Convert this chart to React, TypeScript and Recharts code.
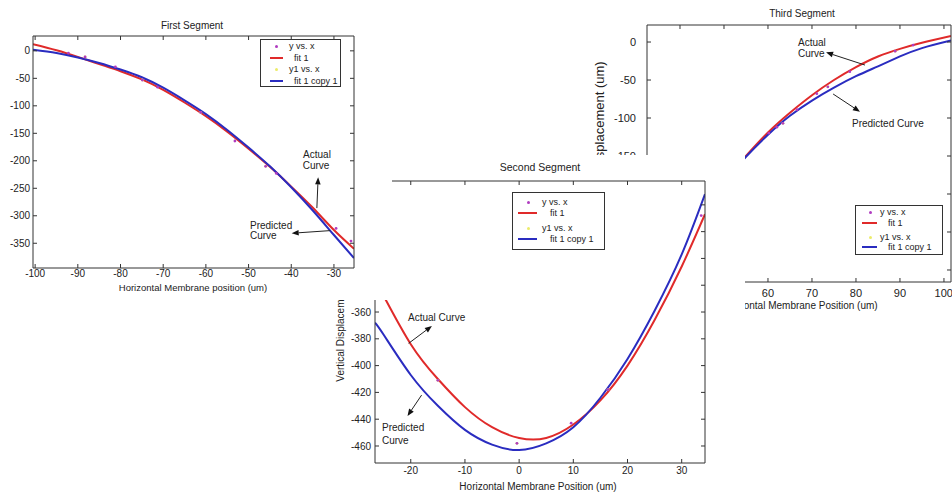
import React from 'react';
import { ComposedChart, Line, Scatter, XAxis, YAxis, ReferenceLine } from 'recharts';

const FONT = '"Liberation Sans", Arial, Helvetica, sans-serif';
const RED = '#e02a2a';
const BLUE = '#2a2cc0';
const MAGENTA = '#b03cc0';
const YELLOW = '#ecec6a';
const AXIS = '#333333';
const TXT = '#222222';

const legendNames = ['y vs. x', 'fit 1', 'y1 vs. x', 'fit 1 copy 1'];

// ---------- First Segment ----------
const s1FitX = [-100.5, -95, -90, -85, -80, -75, -70, -65, -60, -55, -50, -45, -40, -35, -30, -25.3];
const s1Actual = [12, 1, -11, -24, -37, -52, -71, -94, -119, -147, -178, -211, -247, -285, -326, -360];
const s1Predicted = [2, -4, -12, -22, -34, -48, -67, -90, -115, -144, -176, -210, -248, -290, -335, -377];
const s1DotX = [-92.2, -88.3, -81.2, -74.9, -71.3, -61.2, -53.2, -46, -43.5, -29.5, -26];
const s1DotY = [-4, -11, -29, -53, -66, -112, -164, -210, -223, -323, -346];
const s1Dot2X = [-88.3, -74.9, -61.2, -46];
const s1Dot2Y = [-11, -53, -112, -210];
const s1XTicks = [-100, -90, -80, -70, -60, -50, -40, -30];
const s1YTicks = [-350, -300, -250, -200, -150, -100, -50, 0];

// ---------- Second Segment ----------
const s2FitX = [-26.6, -25, -20, -15, -10, -5, 0, 5, 10, 15, 20, 25, 30, 34.3];
const s2Actual = [-337, -348, -384, -410, -431, -446, -454, -454, -444, -426, -400, -366, -326, -287];
const s2Predicted = [-368, -377, -407, -430, -448, -459, -463, -458, -446, -424, -395, -359, -317, -272];
const s2DotX = [-15, -0.4, 9.6, 16.4, 33.6];
const s2DotY = [-411, -458, -443, -418, -288];
const s2Dot2X = [-15, -0.4, 16.4];
const s2Dot2Y = [-411, -458, -418];
const s2XTicks = [-20, -10, 0, 10, 20, 30];
const s2YTicks = [-460, -440, -420, -400, -380, -360, -340, -320, -300, -280];

// ---------- Third Segment ----------
const s3FitX = [52, 55, 60, 65, 70, 75, 80, 85, 90, 95, 101.6];
const s3Actual = [-170, -150, -119, -93, -70, -50, -33, -19, -9, -1, 8];
const s3Predicted = [-171, -151, -122, -97, -77, -60, -45, -32, -19, -8, 2];
const s3DotX = [60.2, 62, 63.4, 66.6, 71.1, 73.6, 78.6, 88.9, 93];
const s3DotY = [-120, -112, -107, -89, -68, -59, -39, -12, -4];
const s3Dot2X = [63.4, 73.6, 88.9];
const s3Dot2Y = [-107, -59, -12];
const s3XTicks = [40, 50, 60, 70, 80, 90, 100];
const s3YTicks = [-300, -250, -200, -150, -100, -50, 0];

// annotation arrows: [fromX, fromY, toX, toY]
const s1Arrows = [[-34, -286, -33.7, -230], [-30.9, -327, -39.9, -331.8]];
const s2Arrows = [[-20.4, -383.4, -16.1, -370.4], [-18, -422, -20.6, -437.6]];
const s3Arrows = [[82.05, -30.3, 73.2, -13.6], [74.8, -68.4, 80.9, -91.7]];

const zip = (xs: number[], ys: number[]) => xs.map((x, i) => ({ x, y: ys[i] }));

const arrowShape = (props: any) => {
  const { x1, y1, x2, y2 } = props;
  if ([x1, y1, x2, y2].some((v) => typeof v !== 'number' || isNaN(v))) return <g />;
  const ang = Math.atan2(y2 - y1, x2 - x1);
  const len = 7;
  const w = 2.8;
  const bx = x2 - len * Math.cos(ang);
  const by = y2 - len * Math.sin(ang);
  const p1 = `${bx + w * Math.sin(ang)},${by - w * Math.cos(ang)}`;
  const p2 = `${bx - w * Math.sin(ang)},${by + w * Math.cos(ang)}`;
  return (
    <g>
      <line x1={x1} y1={y1} x2={bx} y2={by} stroke="#222" strokeWidth={1} />
      <polygon points={`${x2},${y2} ${p1} ${p2}`} fill="#111" />
    </g>
  );
};

const dotShape = (color: string) => (p: any) => <circle cx={p.cx} cy={p.cy} r={1.4} fill={color} stroke="none" />;

type SegProps = {
  width: number;
  height: number;
  margin: { top: number; right: number; bottom: number; left: number };
  leftW: number;
  rightW: number;
  topH: number;
  bottomH: number;
  xDomain: [number, number];
  yDomain: [number, number];
  xTicks: number[];
  yTicks: number[];
  fontSize: number;
  leftMargin: number;
  bottomMargin: number;
  fitX: number[];
  actual: number[];
  predicted: number[];
  dotX: number[];
  dotY: number[];
  dot2X: number[];
  dot2Y: number[];
  arrows: number[][];
};

function SegmentChart(p: SegProps) {
  const tickStyle = { fontSize: p.fontSize, fill: TXT };
  return (
    <ComposedChart width={p.width} height={p.height} margin={p.margin}>
      <XAxis
        dataKey="x"
        type="number"
        domain={p.xDomain}
        ticks={p.xTicks}
        allowDataOverflow
        height={p.bottomH}
        tickSize={-4}
        tickMargin={p.bottomMargin}
        tick={tickStyle}
        axisLine={{ stroke: AXIS }}
        tickLine={{ stroke: AXIS }}
      />
      <XAxis
        xAxisId="top"
        orientation="top"
        dataKey="x"
        type="number"
        domain={p.xDomain}
        ticks={p.xTicks}
        allowDataOverflow
        height={p.topH}
        tickSize={-4}
        tickFormatter={() => ''}
        axisLine={{ stroke: AXIS }}
        tickLine={{ stroke: AXIS }}
      />
      <YAxis
        dataKey="y"
        type="number"
        domain={p.yDomain}
        ticks={p.yTicks}
        allowDataOverflow
        width={p.leftW}
        tickSize={-4}
        tickMargin={p.leftMargin}
        tick={tickStyle}
        axisLine={{ stroke: AXIS }}
        tickLine={{ stroke: AXIS }}
      />
      <YAxis
        yAxisId="right"
        orientation="right"
        type="number"
        domain={p.yDomain}
        ticks={p.yTicks}
        allowDataOverflow
        width={p.rightW}
        tickSize={-4}
        tickFormatter={() => ''}
        axisLine={{ stroke: AXIS }}
        tickLine={{ stroke: AXIS }}
      />
      <Line
        data={zip(p.fitX, p.actual)}
        dataKey="y"
        type="natural"
        stroke={RED}
        strokeWidth={2}
        dot={false}
        activeDot={false}
        isAnimationActive={false}
      />
      <Line
        data={zip(p.fitX, p.predicted)}
        dataKey="y"
        type="natural"
        stroke={BLUE}
        strokeWidth={2}
        dot={false}
        activeDot={false}
        isAnimationActive={false}
      />
      <Scatter data={zip(p.dot2X, p.dot2Y)} fill={YELLOW} shape={dotShape(YELLOW)} isAnimationActive={false} />
      <Scatter data={zip(p.dotX, p.dotY)} fill={MAGENTA} shape={dotShape(MAGENTA)} isAnimationActive={false} />
      {p.arrows.map((a, i) => (
        <ReferenceLine
          key={i}
          segment={[{ x: a[0], y: a[1] }, { x: a[2], y: a[3] }]}
          shape={arrowShape}
          ifOverflow="visible"
        />
      ))}
    </ComposedChart>
  );
}

type LegendCfg = {
  left: number;
  top: number;
  width: number;
  height: number;
  rows: number[];
  dotX: number;
  lineX1: number;
  lineX2: number;
  textX: number;
  lineTextX: number;
};

function MatLegend({ c }: { c: LegendCfg }) {
  const kinds = ['dot', 'line', 'dot', 'line'];
  const colors = [MAGENTA, RED, YELLOW, BLUE];
  return (
    <>
      <div
        style={{
          position: 'absolute',
          left: c.left,
          top: c.top,
          width: c.width,
          height: c.height,
          border: '1px solid #333',
          background: '#fff',
          boxSizing: 'border-box',
        }}
      />
      {legendNames.map((name, i) => (
        <React.Fragment key={name}>
          {kinds[i] === 'dot' ? (
            <div
              style={{
                position: 'absolute',
                left: c.dotX - 1.5,
                top: c.rows[i] - 1.5,
                width: 3,
                height: 3,
                borderRadius: 2,
                background: colors[i],
              }}
            />
          ) : (
            <div
              style={{
                position: 'absolute',
                left: c.lineX1,
                top: c.rows[i] - 1,
                width: c.lineX2 - c.lineX1,
                height: 2,
                background: colors[i],
              }}
            />
          )}
          <div
            style={{
              position: 'absolute',
              left: kinds[i] === 'dot' ? c.textX : c.lineTextX,
              top: c.rows[i],
              transform: 'translateY(-50%)',
              fontSize: 9,
              color: TXT,
              whiteSpace: 'nowrap',
              lineHeight: '10px',
            }}
          >
            {name}
          </div>
        </React.Fragment>
      ))}
    </>
  );
}

const T = (props: { x: number; y: number; text: string; size?: number; align?: 'center' | 'left'; rotate?: boolean }) => {
  const { x, y, text, size = 10, align = 'center', rotate = false } = props;
  let transform = align === 'center' ? 'translate(-50%, -50%)' : 'translateY(-50%)';
  if (rotate) transform = 'translate(-50%, -50%) rotate(-90deg)';
  return (
    <div
      style={{
        position: 'absolute',
        left: x,
        top: y,
        transform,
        fontSize: size,
        color: TXT,
        whiteSpace: 'nowrap',
        lineHeight: `${size + 1}px`,
      }}
    >
      {text}
    </div>
  );
};

export default function App() {
  return (
    <div
      style={{
        position: 'absolute',
        left: 0,
        top: 0,
        width: 952,
        height: 494,
        background: '#fff',
        overflow: 'hidden',
        fontFamily: FONT,
      }}
    >
      {/* Third Segment (back) */}
      <div style={{ position: 'absolute', left: 593, top: 0, width: 359, height: 320, overflow: 'hidden', background: '#fff' }}>
        <SegmentChart
          width={359}
          height={320}
          margin={{ top: 20, right: 0, bottom: 0, left: 0 }}
          leftW={54}
          rightW={1}
          topH={5}
          bottomH={38}
          xDomain={[32.5, 101.6]}
          yDomain={[-315.8, 22.4]}
          xTicks={s3XTicks}
          yTicks={s3YTicks}
          fontSize={11}
          leftMargin={15}
          bottomMargin={11}
          fitX={s3FitX}
          actual={s3Actual}
          predicted={s3Predicted}
          dotX={s3DotX}
          dotY={s3DotY}
          dot2X={s3Dot2X}
          dot2Y={s3Dot2Y}
          arrows={s3Arrows}
        />
        <T x={209} y={13} text="Third Segment" size={10} />
        <T x={206} y={305} text="Horizontal Membrane Position (um)" size={10} />
        <T x={7} y={139} text="Vertical Displacement (um)" size={13} rotate />
        <T x={205} y={42} text="Actual" size={10} align="left" />
        <T x={205} y={53} text="Curve" size={10} align="left" />
        <T x={259} y={123} text="Predicted Curve" size={10} align="left" />
        <MatLegend
          c={{ left: 262, top: 205, width: 88, height: 50, rows: [212, 223, 237, 247], dotX: 277, lineX1: 269, lineX2: 284, textX: 287, lineTextX: 295 }}
        />
      </div>

      {/* Second Segment (middle) */}
      <div style={{ position: 'absolute', left: 333, top: 155, width: 412, height: 339, overflow: 'hidden', background: '#fff' }}>
        <SegmentChart
          width={412}
          height={339}
          margin={{ top: 21, right: 35, bottom: 0, left: 0 }}
          leftW={42}
          rightW={5}
          topH={5}
          bottomH={31}
          xDomain={[-26.6, 34.3]}
          yDomain={[-472.7, -262.2]}
          xTicks={s2XTicks}
          yTicks={s2YTicks}
          fontSize={10}
          leftMargin={8}
          bottomMargin={8}
          fitX={s2FitX}
          actual={s2Actual}
          predicted={s2Predicted}
          dotX={s2DotX}
          dotY={s2DotY}
          dot2X={s2Dot2X}
          dot2Y={s2Dot2Y}
          arrows={s2Arrows}
        />
        <T x={207} y={13} text="Second Segment" size={10.5} />
        <T x={205} y={331} text="Horizontal Membrane Position (um)" size={10} />
        <T x={7} y={167} text="Vertical Displacement (um)" size={10} rotate />
        <T x={75} y={162} text="Actual Curve" size={10} align="left" />
        <T x={49} y={272} text="Predicted" size={10} align="left" />
        <T x={49} y={285} text="Curve" size={10} align="left" />
        <MatLegend
          c={{ left: 179, top: 37, width: 93, height: 58, rows: [47, 58, 73, 84], dotX: 195, lineX1: 185, lineX2: 204, textX: 209, lineTextX: 217 }}
        />
      </div>

      {/* First Segment (front) */}
      <div style={{ position: 'absolute', left: 0, top: 0, width: 392, height: 300, overflow: 'hidden', background: '#fff' }}>
        <SegmentChart
          width={392}
          height={300}
          margin={{ top: 31, right: 33, bottom: 0, left: 0 }}
          leftW={33}
          rightW={5}
          topH={5}
          bottomH={32}
          xDomain={[-100.5, -25.3]}
          yDomain={[-395, 27]}
          xTicks={s1XTicks}
          yTicks={s1YTicks}
          fontSize={10}
          leftMargin={7}
          bottomMargin={6}
          fitX={s1FitX}
          actual={s1Actual}
          predicted={s1Predicted}
          dotX={s1DotX}
          dotY={s1DotY}
          dot2X={s1Dot2X}
          dot2Y={s1Dot2Y}
          arrows={s1Arrows}
        />
        <T x={192} y={25} text="First Segment" size={10} />
        <T x={193} y={288} text="Horizontal Membrane position (um)" size={9.5} />
        <T x={317} y={154} text="Actual" size={10} />
        <T x={316} y={165} text="Curve" size={10} />
        <T x={250} y={225} text="Predicted" size={10} align="left" />
        <T x={250} y={235} text="Curve" size={10} align="left" />
        <MatLegend
          c={{ left: 260, top: 39, width: 81, height: 48, rows: [46, 58, 69, 81], dotX: 276, lineX1: 270, lineX2: 283, textX: 289, lineTextX: 294 }}
        />
      </div>
    </div>
  );
}
